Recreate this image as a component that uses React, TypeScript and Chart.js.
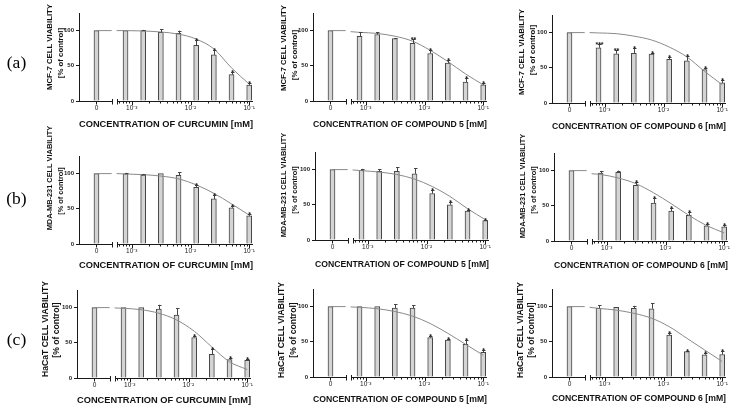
import React, { useEffect, useRef } from 'react';
import { Chart, registerables } from 'chart.js';
Chart.register(...registerables);

// ---------- data ----------
const CONCENTRATIONS = [0.00078125, 0.0015625, 0.003125, 0.00625, 0.0125, 0.025, 0.05, 0.1];
const CONTROL_LABEL = '0';
const CONTROL_VALUE = 100;
const FIT_PLATEAU = 100;
const FIT_X = [0.00055, 0.00078125, 0.0015625, 0.003125, 0.00625, 0.0125, 0.025, 0.05, 0.1];

const X_TICKS = [0.0006, 0.0007, 0.0008, 0.0009, 0.001, 0.002, 0.003, 0.004, 0.005, 0.006, 0.007, 0.008, 0.009,
  0.01, 0.02, 0.03, 0.04, 0.05, 0.06, 0.07, 0.08, 0.09, 0.1];
const X_TICK_LABELS = ['', '', '', '', '10⁻³', '', '', '', '', '', '', '', '', '10⁻²', '', '', '', '', '', '', '', '', '10⁻¹'];
const Y_TICKS = [0, 50, 100];

const CELL_LINES = ['MCF-7', 'MDA-MB-231', 'HaCaT'];
const COMPOUNDS = ['CURCUMIN', 'COMPOUND 5', 'COMPOUND 6'];
const ROW_LABELS = ['(a)', '(b)', '(c)'];

const A1_VALUES = [100, 100, 97.5, 96, 79, 65.5, 37.5, 22.5];
const A1_ERRORS = [0, 1, 4.5, 4, 7, 6.5, 4, 3.5];
const A1_STARS = ['', '', '', '', '*', '*', '*', '*'];
const A1_FIT = [100, 100, 99.5, 98, 95, 88, 74, 47, 24];

const A2_VALUES = [92, 94.5, 88.5, 82, 67.5, 54, 27, 23];
const A2_ERRORS = [5.5, 3.5, 1, 6, 5, 4, 6, 2.5];
const A2_STARS = ['', '', '', '**', '*', '*', '*', '*'];
const A2_FIT = [98.5, 97.5, 96, 92, 85, 72, 56, 38.5, 23];

const A3_VALUES = [78.5, 70, 70.5, 69.5, 62, 60, 47.5, 28.5];
const A3_ERRORS = [5.5, 5, 8, 2, 3.5, 6.5, 2.5, 4.5];
const A3_STARS = ['***', '**', '*', '*', '*', '*', '*', '*'];
const A3_FIT = [100, 99.5, 98.5, 95, 89.5, 79.5, 65.5, 45, 26];

const B1_VALUES = [99.5, 98, 100, 97.5, 80.5, 64, 51.5, 40];
const B1_ERRORS = [1.5, 1, 0, 4.5, 3.5, 6, 2.5, 2.5];
const B1_STARS = ['', '', '', '', '*', '*', '*', '*'];
const B1_FIT = [100, 99.5, 98.5, 96.5, 92.5, 84, 72, 57, 41];

const B2_VALUES = [99, 97.5, 97.5, 94, 66, 50, 41, 27.5];
const B2_ERRORS = [2, 3, 5.5, 8, 5.5, 3.5, 1.5, 1.5];
const B2_STARS = ['', '', '', '', '*', '*', '*', '*'];
const B2_FIT = [99.5, 98.5, 96.5, 93, 86.5, 76, 62, 44.5, 29];

const B3_VALUES = [96.5, 97.5, 79, 54, 42.5, 36.5, 21.5, 20];
const B3_ERRORS = [3, 2.5, 5, 6.5, 5, 4.5, 3, 2.5];
const B3_STARS = ['', '', '*', '*', '*', '*', '*', '*'];
const B3_FIT = [95.5, 94.5, 89.5, 81.5, 68.5, 53, 36.5, 22, 11.5];

const C1_VALUES = [100, 100, 98, 89.5, 57.5, 33.5, 26, 25];
const C1_ERRORS = [0, 0, 6, 9.5, 2.5, 7, 3, 2];
const C1_STARS = ['', '', '', '', '*', '*', '*', '*'];
const C1_FIT = [99.5, 99, 97, 92, 82.5, 66.5, 44, 23, 12];

const C2_VALUES = [100, 100, 98, 98, 56, 52.5, 46.5, 35];
const C2_ERRORS = [0, 0, 5, 4, 2.5, 1.5, 6.5, 3];
const C2_STARS = ['', '', '', '', '*', '*', '*', '*'];
const C2_FIT = [99.5, 99, 97, 93, 86.5, 76, 62, 46.5, 31];

const C3_VALUES = [97.5, 99, 97.5, 97, 59.5, 36, 31.5, 32];
const C3_ERRORS = [4.5, 0, 3.5, 7.5, 3.5, 1.5, 2.5, 5];
const C3_STARS = ['', '', '', '', '*', '*', '*', '*'];
const C3_FIT = [99, 97.5, 95, 90.5, 83.5, 71.5, 55, 38.5, 22];

// ---------- axis geometry (data-space positions of the axis pieces) ----------
const X_MIN = 0.0001259;
const X_MAX = 0.1161;
const CONTROL_POS = 0.00025;
const BREAK_LEFT = 0.000454;
const BREAK_RIGHT = 0.000552;

// ---------- layout ----------
const YW = 34;
const PT = 6;
const CH = 88;
const XH = 32;
const PR = 6;
const PW = 174;
const CW = YW + PW + PR;
const CHH = PT + CH + XH;
const FONT = '"Liberation Sans", Arial, Helvetica, sans-serif';

type Layout = { axisX: number; y0: number; titleY: number; t1: [number, number]; t2: [number, number]; tf: number };
const LAYOUTS: Layout[] = [
  { axisX: 79, y0: 101, titleY: 124, t1: [50, 46.5], t2: [61, 53], tf: 7.8 },
  { axisX: 313, y0: 101, titleY: 124, t1: [284, 47.5], t2: [294.5, 55], tf: 7.8 },
  { axisX: 552, y0: 103, titleY: 126, t1: [522, 52], t2: [533, 50], tf: 7.8 },
  { axisX: 79, y0: 244, titleY: 265, t1: [49.5, 178], t2: [61, 191], tf: 7.4 },
  { axisX: 315, y0: 240, titleY: 264.5, t1: [283.5, 185], t2: [294.5, 190], tf: 7.4 },
  { axisX: 554, y0: 241, titleY: 265, t1: [523, 186], t2: [534, 190], tf: 7.4 },
  { axisX: 77, y0: 378, titleY: 400, t1: [44.5, 329], t2: [56, 329.5], tf: 8.6 },
  { axisX: 313, y0: 377, titleY: 399.5, t1: [281, 330], t2: [292.5, 330], tf: 8.6 },
  { axisX: 552, y0: 377, titleY: 398.5, t1: [519.5, 330], t2: [531, 330], tf: 8.6 },
];

const VALUES = [A1_VALUES, A2_VALUES, A3_VALUES, B1_VALUES, B2_VALUES, B3_VALUES, C1_VALUES, C2_VALUES, C3_VALUES];
const ERRORS = [A1_ERRORS, A2_ERRORS, A3_ERRORS, B1_ERRORS, B2_ERRORS, B3_ERRORS, C1_ERRORS, C2_ERRORS, C3_ERRORS];
const STARS = [A1_STARS, A2_STARS, A3_STARS, B1_STARS, B2_STARS, B3_STARS, C1_STARS, C2_STARS, C3_STARS];
const FITS = [A1_FIT, A2_FIT, A3_FIT, B1_FIT, B2_FIT, B3_FIT, C1_FIT, C2_FIT, C3_FIT];

const AXIS_COLOR = '#1a1a1a';
const BAR_FILL = '#d4d4d4';
const BAR_EDGE = '#454545';
const FIT_COLOR = '#8a8a8a';

function Panel({ idx }: { idx: number }) {
  const ref = useRef<HTMLCanvasElement>(null);
  const L = LAYOUTS[idx];
  const row = Math.floor(idx / 3);
  const col = idx % 3;
  useEffect(() => {
    const canvas = ref.current;
    if (!canvas) return;
    const values = VALUES[idx];
    const errors = ERRORS[idx];
    const stars = STARS[idx];
    const fit = FITS[idx];
    const xLabels = [CONTROL_LABEL, ...X_TICK_LABELS];
    const titleFont = 9.5;
    const titlePad = L.y0 + XH - L.titleY - (titleFont * 1.2) / 2;

    const decor = {
      id: 'decor',
      afterDatasetsDraw(chart: any) {
        const { ctx, chartArea } = chart;
        const xs = chart.scales.x;
        const ys = chart.scales.y;
        const meta = chart.getDatasetMeta(0);
        ctx.save();
        ctx.strokeStyle = BAR_EDGE;
        ctx.lineWidth = 1;
        meta.data.forEach((el: any, i: number) => {
          if (i === 0) return;
          const v = values[i - 1];
          const e = errors[i - 1];
          const top = ys.getPixelForValue(v + e);
          const cx = Math.round(el.x) + 0.5;
          if (e > 0) {
            ctx.beginPath();
            ctx.moveTo(cx, el.y);
            ctx.lineTo(cx, top);
            ctx.moveTo(cx - 1.5, Math.round(top) + 0.5);
            ctx.lineTo(cx + 2, Math.round(top) + 0.5);
            ctx.stroke();
          }
          const s = stars[i - 1];
          if (s) {
            ctx.fillStyle = '#222';
            ctx.font = `bold 7px ${FONT}`;
            ctx.textAlign = 'center';
            ctx.textBaseline = 'alphabetic';
            ctx.fillText(s, cx, top + 3);
          }
        });
        const yb = Math.round(chartArea.bottom) + 0.5;
        const bl = Math.round(xs.getPixelForValue(BREAK_LEFT)) + 0.5;
        const br = Math.round(xs.getPixelForValue(BREAK_RIGHT)) + 0.5;
        ctx.strokeStyle = AXIS_COLOR;
        ctx.beginPath();
        ctx.moveTo(chartArea.left, yb);
        ctx.lineTo(bl, yb);
        ctx.moveTo(br, yb);
        ctx.lineTo(chartArea.right, yb);
        ctx.moveTo(bl, yb - 2.5);
        ctx.lineTo(bl, yb + 3);
        ctx.moveTo(br, yb - 2.5);
        ctx.lineTo(br, yb + 3);
        const cp = Math.round(xs.getPixelForValue(CONTROL_POS)) + 0.5;
        ctx.moveTo(cp, yb);
        ctx.lineTo(cp, yb + 3);
        X_TICKS.forEach((t, k) => {
          const p = Math.round(xs.getPixelForValue(t)) + 0.5;
          const len = X_TICK_LABELS[k] ? 3.5 : 2;
          ctx.moveTo(p, yb);
          ctx.lineTo(p, yb + len);
        });
        ctx.stroke();
        ctx.restore();
      },
    };

    const chart = new Chart(canvas, {
      type: 'bar',
      data: {
        datasets: [
          {
            type: 'bar',
            data: [{ x: CONTROL_POS, y: CONTROL_VALUE }, ...CONCENTRATIONS.map((c, i) => ({ x: c, y: values[i] }))],
            backgroundColor: BAR_FILL,
            borderColor: BAR_EDGE,
            borderWidth: 1,
            barThickness: 5,
            order: 2,
          } as any,
          {
            type: 'line',
            data: [{ x: CONTROL_POS, y: FIT_PLATEAU }, { x: BREAK_LEFT, y: FIT_PLATEAU }],
            borderColor: FIT_COLOR,
            borderWidth: 1,
            pointRadius: 0,
            order: 1,
          } as any,
          {
            type: 'line',
            data: FIT_X.map((x, i) => ({ x, y: fit[i] })),
            borderColor: FIT_COLOR,
            borderWidth: 1,
            pointRadius: 0,
            cubicInterpolationMode: 'monotone',
            order: 1,
          } as any,
        ],
      },
      options: {
        animation: false,
        responsive: false,
        events: [],
        layout: { padding: { left: 0, right: PR, top: PT, bottom: 0 } },
        plugins: { legend: { display: false }, tooltip: { enabled: false }, title: { display: false } },
        scales: {
          x: {
            type: 'logarithmic',
            min: X_MIN,
            max: X_MAX,
            offset: false,
            grid: { display: false, drawTicks: false, offset: false } as any,
            border: { display: false },
            afterBuildTicks: (s: any) => {
              s.ticks = [CONTROL_POS, ...X_TICKS].map((v) => ({ value: v }));
            },
            afterFit: (s: any) => {
              s.height = XH;
            },
            ticks: {
              autoSkip: false,
              maxRotation: 0,
              minRotation: 0,
              padding: 3.5,
              color: AXIS_COLOR,
              font: { family: FONT, size: 6.5 },
              callback: (_v: any, i: number) => xLabels[i],
            },
            title: {
              display: true,
              text: `CONCENTRATION OF ${COMPOUNDS[col]} [mM]`,
              color: '#111',
              font: { family: FONT, size: titleFont, weight: 'bold' },
              padding: { top: 0, bottom: titlePad },
            },
          } as any,
          y: {
            type: 'linear',
            min: 0,
            max: 125,
            grid: { display: true, drawOnChartArea: false, drawTicks: true, tickLength: 3, color: AXIS_COLOR },
            border: { display: true, color: AXIS_COLOR, width: 1 },
            afterBuildTicks: (s: any) => {
              s.ticks = Y_TICKS.map((v) => ({ value: v }));
            },
            afterFit: (s: any) => {
              s.width = YW;
            },
            ticks: {
              padding: 2,
              color: AXIS_COLOR,
              font: { family: FONT, size: 6, weight: 'bold' },
            },
          } as any,
        },
      },
      plugins: [decor],
    });
    return () => chart.destroy();
  }, [idx]);

  const textStyle = (x: number, y: number): React.CSSProperties => ({
    position: 'absolute',
    left: x,
    top: y,
    transform: 'translate(-50%, -50%) rotate(-90deg)',
    whiteSpace: 'nowrap',
    fontFamily: FONT,
    fontWeight: 'bold',
    fontSize: L.tf,
    lineHeight: 1,
    color: '#111',
  });

  return (
    <>
      <canvas
        ref={ref}
        width={CW}
        height={CHH}
        style={{ position: 'absolute', left: L.axisX - YW, top: L.y0 - CH - PT, width: CW, height: CHH }}
      />
      <div style={textStyle(L.t1[0], L.t1[1])}>{`${CELL_LINES[row]} CELL VIABILITY`}</div>
      <div style={textStyle(L.t2[0], L.t2[1])}>[% of control]</div>
    </>
  );
}

const ROW_LABEL_Y = [63, 199, 340];

export default function App() {
  return (
    <div style={{ position: 'absolute', left: 0, top: 0, width: 744, height: 411, background: '#fff', overflow: 'hidden' }}>
      {LAYOUTS.map((_, i) => (
        <Panel key={i} idx={i} />
      ))}
      {ROW_LABELS.map((t, r) => (
        <div
          key={t}
          style={{
            position: 'absolute',
            left: 16.5,
            top: ROW_LABEL_Y[r],
            transform: 'translate(-50%, -50%)',
            fontFamily: '"Liberation Serif", "Times New Roman", serif',
            fontSize: 17.5,
            lineHeight: 1,
            color: '#000',
            whiteSpace: 'nowrap',
          }}
        >
          {t}
        </div>
      ))}
    </div>
  );
}
